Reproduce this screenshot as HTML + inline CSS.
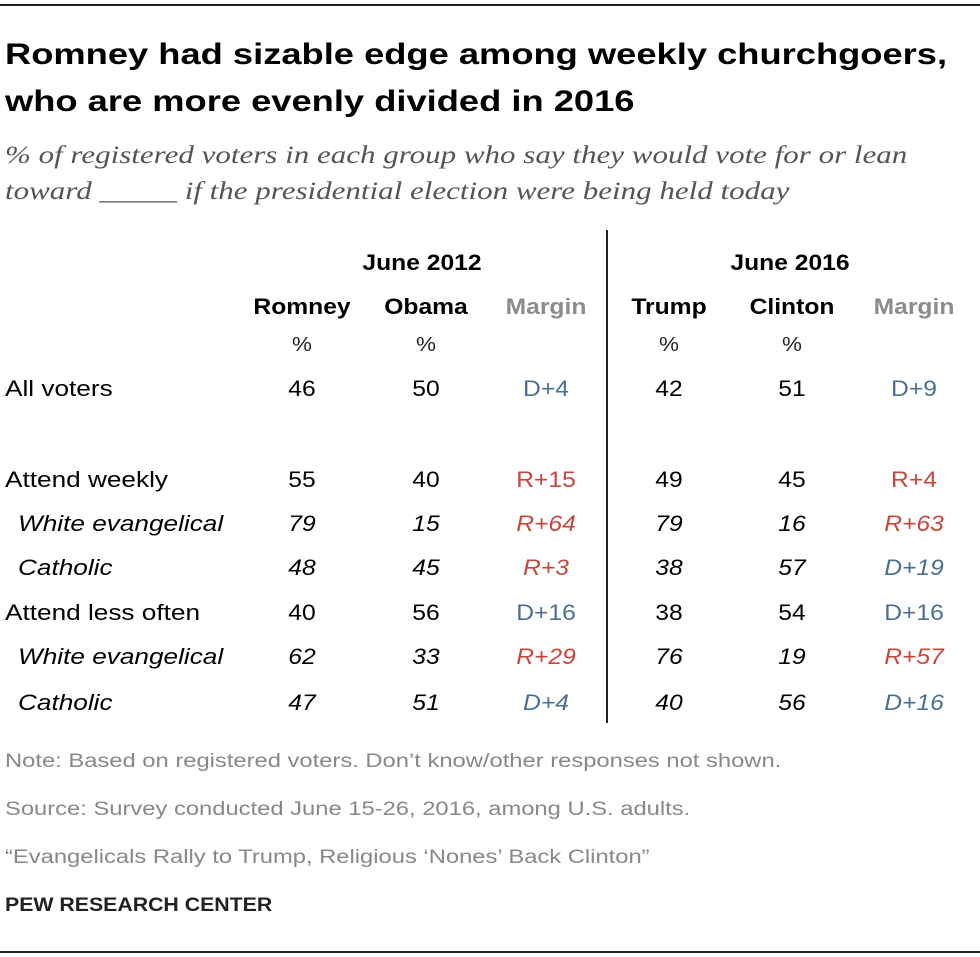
<!DOCTYPE html>
<html><head><meta charset="utf-8"><style>
body{margin:0;background:#fff;}
#c{position:relative;width:980px;height:957px;font-family:"Liberation Sans",sans-serif;color:#000;overflow:hidden}
.t{position:absolute;white-space:nowrap;line-height:1;transform-origin:0 0}
.ctr{transform:translateX(-50%) scaleX(1.12);transform-origin:50% 0}
.it{font-style:italic}
.b{font-weight:bold}
.D{color:#4a6f95}.R{color:#c8463a}
</style></head><body>
<div id="c">
<div style="position:absolute;left:0;top:4px;width:980px;height:2px;background:#222"></div>
<div class="t b" style="left:5px;top:40px;font-size:30px;transform:scaleX(1.21)">Romney had sizable edge among weekly churchgoers,</div>
<div class="t b" style="left:5px;top:87px;font-size:30px;transform:scaleX(1.21)">who are more evenly divided in 2016</div>
<div class="t it" style="left:5px;top:143px;font-size:25px;color:#555;font-family:'Liberation Serif',serif;transform:scaleX(1.24)">% of registered voters in each group who say they would vote for or lean</div>
<div class="t it" style="left:5px;top:179px;font-size:25px;color:#555;font-family:'Liberation Serif',serif;transform:scaleX(1.24)">toward _____ if the presidential election were being held today</div>
<div style="position:absolute;left:606px;top:230px;width:2px;height:493px;background:#222"></div>
<div class="t b ctr" style="left:422px;top:252px;font-size:22px">June 2012</div>
<div class="t b ctr" style="left:790px;top:252px;font-size:22px">June 2016</div>
<div class="t" style="left:5px;top:752px;font-size:19px;color:#888;transform:scaleX(1.25)">Note: Based on registered voters. Don’t know/other responses not shown.</div>
<div class="t" style="left:5px;top:800px;font-size:19px;color:#888;transform:scaleX(1.25)">Source: Survey conducted June 15-26, 2016, among U.S. adults.</div>
<div class="t" style="left:5px;top:848px;font-size:19px;color:#888;transform:scaleX(1.25)">“Evangelicals Rally to Trump, Religious ‘Nones’ Back Clinton”</div>
<div class="t b" style="left:5px;top:896px;font-size:19px;color:#222;transform:scaleX(1.12)">PEW RESEARCH CENTER</div>
<div style="position:absolute;left:0;top:951px;width:980px;height:2px;background:#222"></div>
</div>
<script>
const headers=["Romney","Obama","Margin","Trump","Clinton","Margin"];
const rowLabels=["All voters","Attend weekly","White evangelical","Catholic","Attend less often","White evangelical","Catholic"];
const rowItalic=[false,false,true,true,false,true,true];
const romney=[46,55,79,48,40,62,47];
const obama=[50,40,15,45,56,33,51];
const margin2012=["D+4","R+15","R+64","R+3","D+16","R+29","D+4"];
const trump=[42,49,79,38,38,76,40];
const clinton=[51,45,16,57,54,19,56];
const margin2016=["D+9","R+4","R+63","D+19","D+16","R+57","D+16"];
const colX=[302,426,546,669,792,914];
const rowY=[378,469,513,557,602,646,692];
const c=document.getElementById('c');
function add(txt,cls,x,y,size,color){
 const d=document.createElement('div');
 d.className='t '+cls;d.textContent=txt;
 d.style.left=x+'px';d.style.top=y+'px';d.style.fontSize=size+'px';
 if(color)d.style.color=color;
 c.appendChild(d);return d;
}
headers.forEach((h,i)=>{
 const d=add(h,'b ctr',colX[i],296,22,h==='Margin'?'#8c8c8c':null);
 
 
 if(h!=='Margin'){
  const p=add('%','ctr',colX[i],335,20,'#222');
  
  
 }
});
rowLabels.forEach((lab,r)=>{
 const it=rowItalic[r]?'it':'';
 const l=add(lab,it,rowItalic[r]?18:5,rowY[r],22);
 l.style.transform='scaleX(1.19)';
 
 
 const vals=[romney[r],obama[r],margin2012[r],trump[r],clinton[r],margin2016[r]];
 vals.forEach((v,i)=>{
  const s=String(v);
  const cls=(i===2||i===5)?(s[0]==='D'?'D':'R'):'';
  const d=add(s,'ctr '+it+' '+cls,colX[i],rowY[r],22);
  
  
 });
});
</script>
</body></html>
